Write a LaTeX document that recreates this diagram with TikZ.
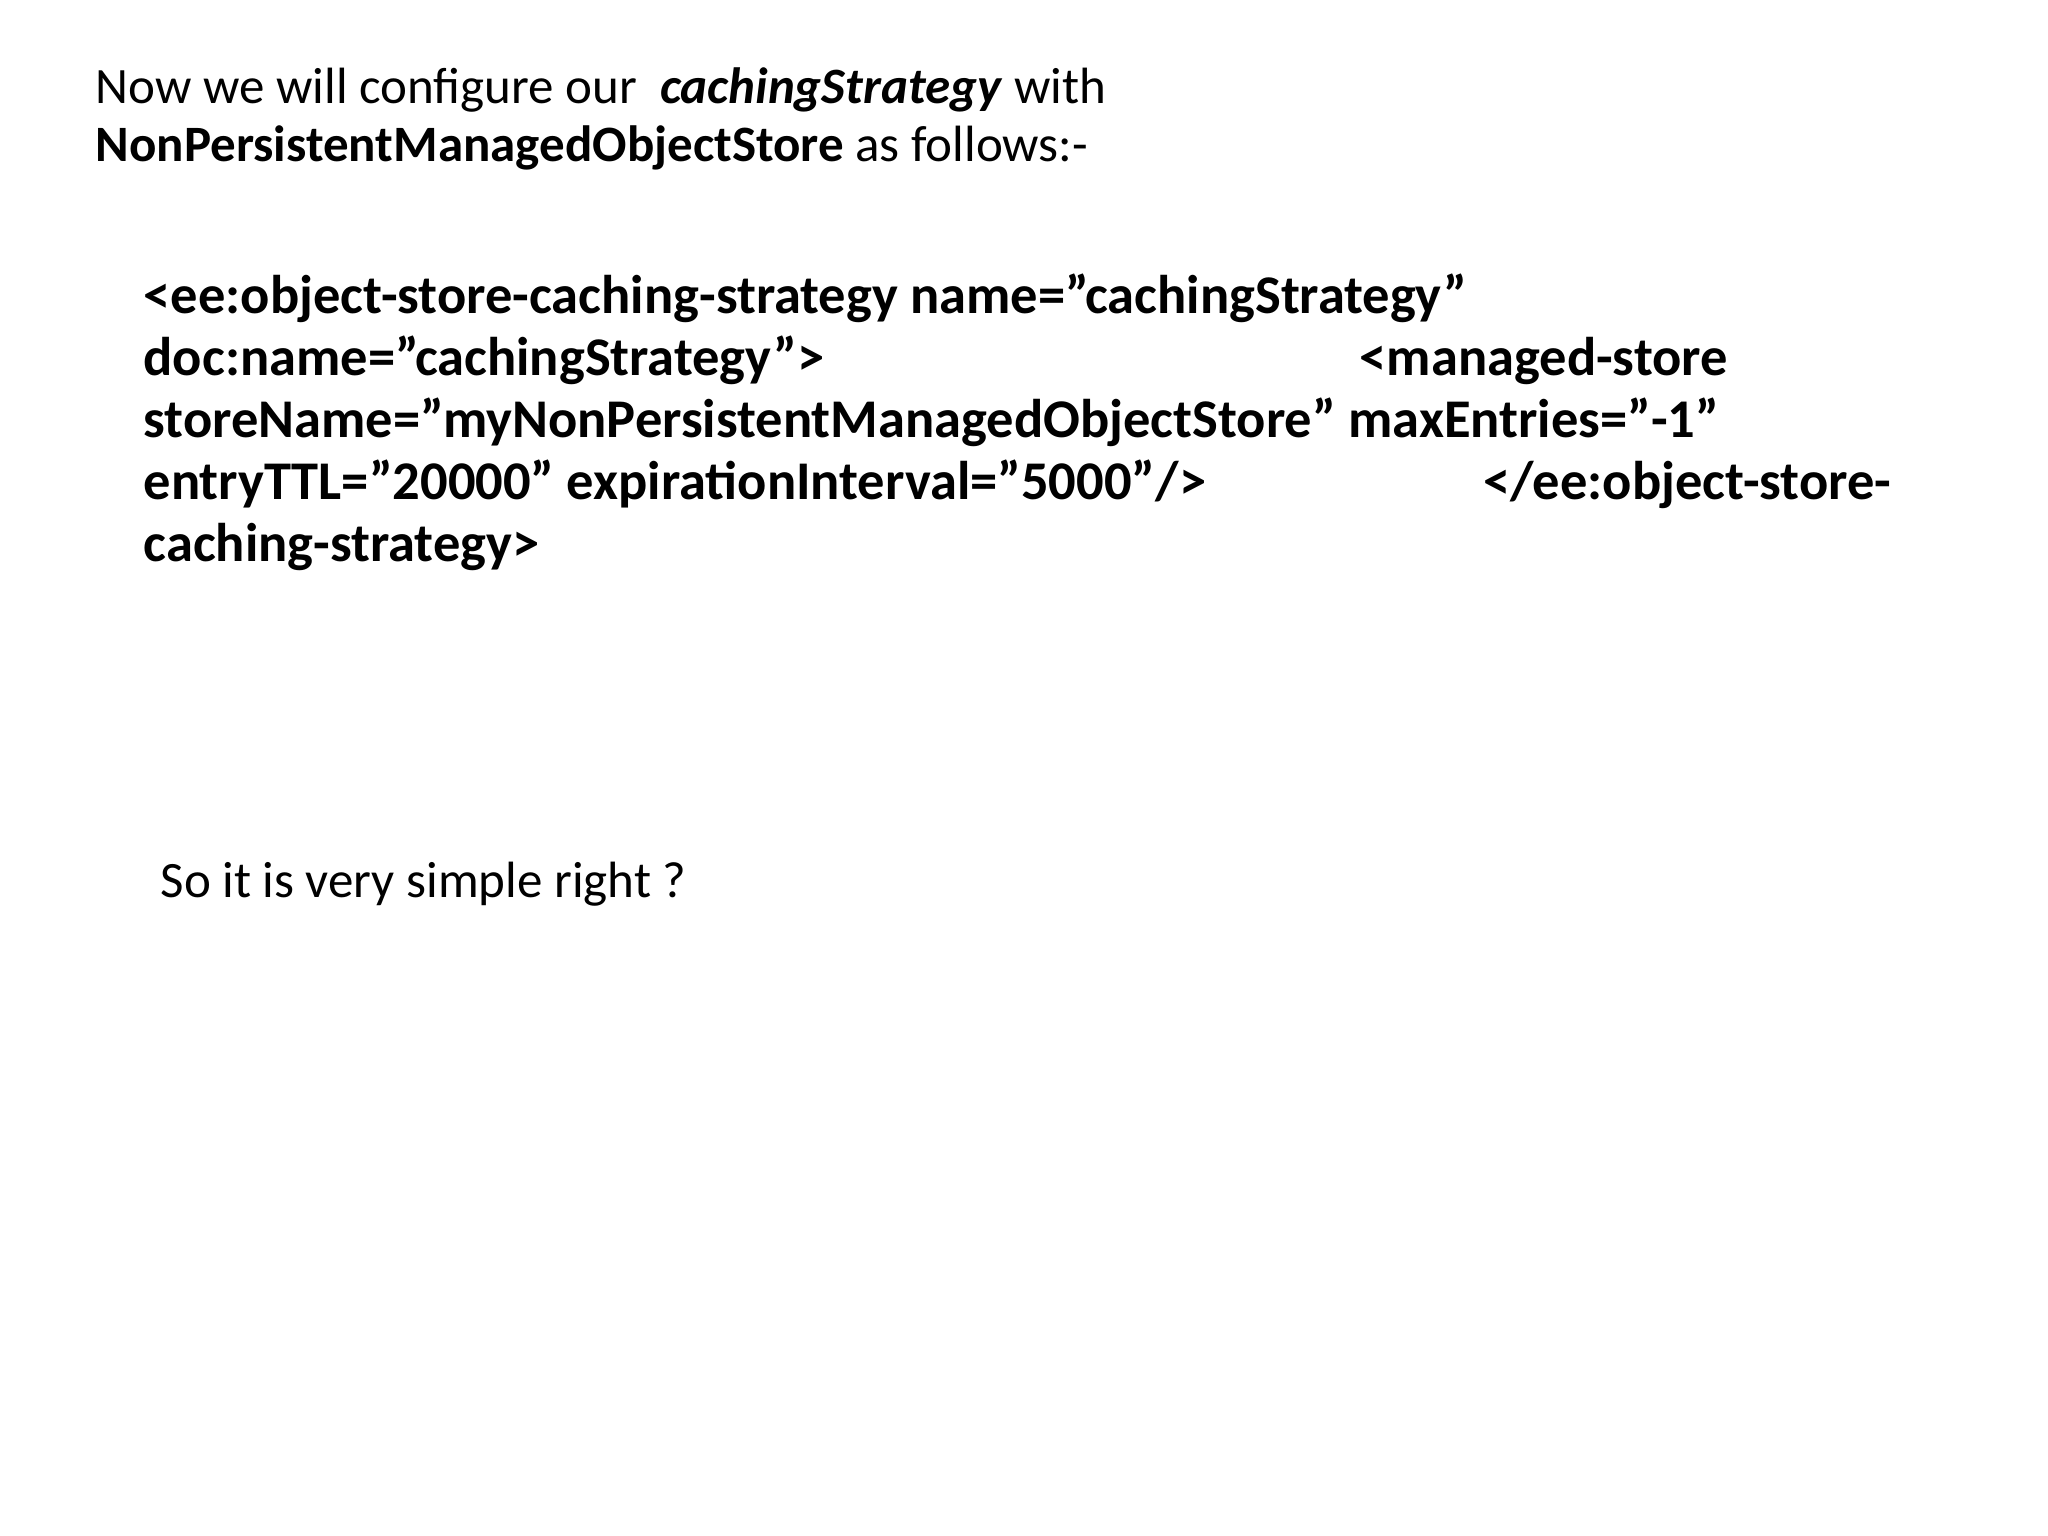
\documentclass[tikz,border=0pt]{standalone}
\usepackage{fontspec}
\setmainfont{Carlito}
\begin{document}
\begin{tikzpicture}[x=0.01cm,y=-0.01cm,
  t/.style={anchor=base west,inner sep=0pt,font=\fontsize{14.5}{17}\selectfont},
  c/.style={anchor=base west,inner sep=0pt,font=\fontsize{15.5}{18}\selectfont\bfseries}]
\useasboundingbox (0,0) rectangle (2048,1536);
\node[t] (t1) at (95,103) {Now we will configure our \ \textbf{\textit{cachingStrategy}} with};
\node[t] (t2) at (95,161) {\textbf{NonPersistentManagedObjectStore} as follows:-};
\node[c] (c1) at (143,313) {<ee:object-store-caching-strategy name="cachingStrategy"};
\node[c] (c2) at (143,375) {doc:name="cachingStrategy">};
\node[c] (c2b) at (1359,375) {<managed-store};
\node[c] (c3) at (143,437) {storeName="myNonPersistentManagedObjectStore" maxEntries="-1"};
\node[c] (c4) at (143,499) {entryTTL="20000" expirationInterval="5000"/>};
\node[c] (c4b) at (1483,499) {</ee:object-store-};
\node[c] (c5) at (143,561) {caching-strategy>};
\node[t] (s) at (160,897) {So it is very simple right ?};
\end{tikzpicture}
\end{document}
